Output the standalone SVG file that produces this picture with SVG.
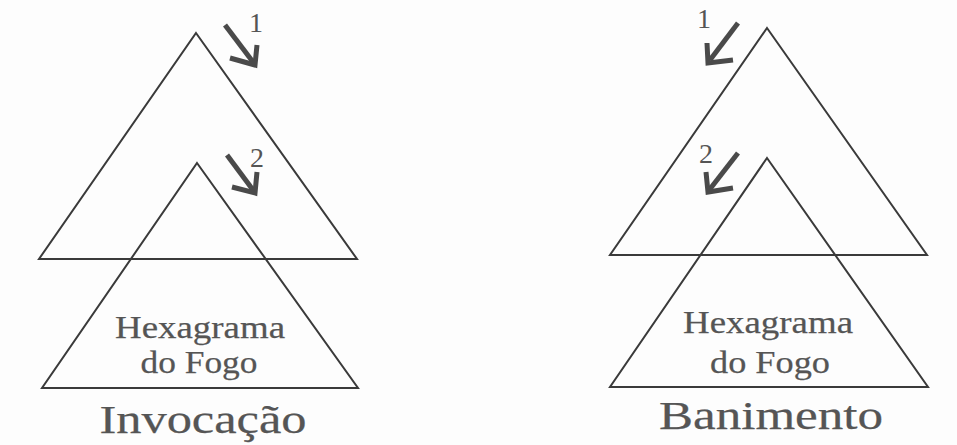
<svg xmlns="http://www.w3.org/2000/svg" width="957" height="445" viewBox="0 0 957 445">
<style>
.tri{fill:none;stroke:#3a3a3a;stroke-width:2;stroke-linejoin:miter}
.arr{fill:none;stroke:#4a4a4a;stroke-width:5;stroke-linecap:butt;stroke-linejoin:miter}
.lbl{font-family:"Liberation Serif","Times New Roman",serif;fill:#555;stroke:#555;stroke-width:0.25}
.num{font-family:"Liberation Serif","Times New Roman",serif;fill:#555;font-size:28px}
.hex{font-size:32px;text-anchor:middle}
.title{font-size:40px;text-anchor:middle}
</style>
<rect width="957" height="445" fill="#fdfdfd"/>
<g id="invocacao">
  <g id="inv-big-triangle"><polygon class="tri" points="196,33 357,259 39,259"/></g>
  <g id="inv-small-triangle"><polygon class="tri" points="197,163 358,388 42,388"/></g>
  <g id="inv-hexagrama"><text class="lbl hex" x="200" y="338" textLength="170" lengthAdjust="spacingAndGlyphs">Hexagrama</text><text class="lbl hex" x="199" y="373" textLength="117" lengthAdjust="spacingAndGlyphs">do Fogo</text></g>
  <g id="inv-title"><text class="lbl title" x="203" y="433" textLength="207" lengthAdjust="spacingAndGlyphs">Invocação</text></g>
  <g id="inv-num1"><text class="num" x="249" y="32">1</text></g>
  <g id="inv-num2"><text class="num" x="250" y="167">2</text></g>
</g>
<g id="banimento">
  <g id="ban-big-triangle"><polygon class="tri" points="767,28 927,255 610,255"/></g>
  <g id="ban-small-triangle"><polygon class="tri" points="767,158 928,387 610,387"/></g>
  <g id="ban-hexagrama"><text class="lbl hex" x="768" y="333" textLength="170" lengthAdjust="spacingAndGlyphs">Hexagrama</text><text class="lbl hex" x="770" y="373" textLength="120" lengthAdjust="spacingAndGlyphs">do Fogo</text></g>
  <g id="ban-title"><text class="lbl title" x="771" y="429" textLength="224" lengthAdjust="spacingAndGlyphs">Banimento</text></g>
  <g id="ban-num1"><text class="num" x="697" y="28">1</text></g>
  <g id="ban-num2"><text class="num" x="699" y="163">2</text></g>
</g>
<g id="connectors">
  <line class="arr" x1="225" y1="25" x2="253" y2="62"/>
  <polyline class="arr" points="230,58 255,65 257,45"/>
  <line class="arr" x1="227" y1="155" x2="253" y2="190"/>
  <polyline class="arr" points="232,187 255,193 257,172"/>
  <line class="arr" x1="738" y1="23" x2="710" y2="60"/>
  <polyline class="arr" points="707,43 708,63 733,60"/>
  <line class="arr" x1="738" y1="153" x2="710" y2="189"/>
  <polyline class="arr" points="706,172 708,192 733,188"/>
</g>
</svg>
